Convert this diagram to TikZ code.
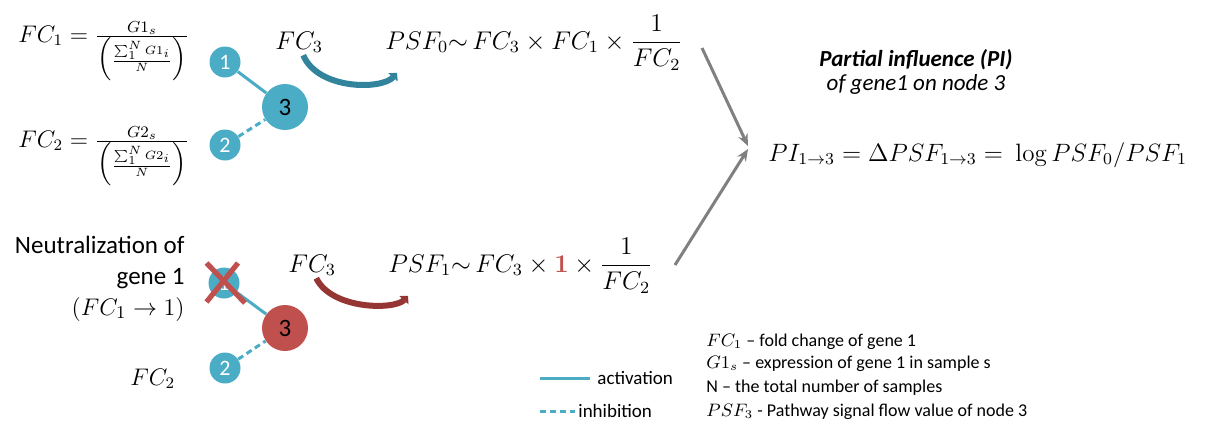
\documentclass[tikz,border=0pt]{standalone}
\usepackage{amsmath}
\usepackage{graphicx}
\usepackage[no-math]{fontspec}
\setmainfont{Carlito}
\usetikzlibrary{arrows.meta}
\definecolor{tealn}{HTML}{4BACC6}
\definecolor{redn}{HTML}{C0504D}
\definecolor{tealarr}{HTML}{31849B}
\definecolor{redarr}{HTML}{963634}
\definecolor{grayarr}{HTML}{808080}
\tikzset{
  gnode/.style={circle, fill=tealn, inner sep=0pt, minimum size=15.5pt, text=white, font=\fontsize{11}{12}\selectfont},
  bignode/.style={circle, inner sep=0pt, minimum size=23pt, text=black, font=\fontsize{12.5}{14}\selectfont},
  act/.style={draw=tealn, line width=1.5pt},
  inh/.style={draw=tealn, line width=1.5pt, dash pattern=on 3pt off 2pt},
  bigmath/.style={anchor=base west, inner sep=0pt, font=\fontsize{12}{14}\selectfont},
  midmath/.style={anchor=base west, inner sep=0pt, font=\fontsize{12}{14}\selectfont},
  curvarr/.style={line width=3pt, -{Triangle[length=3pt,width=6pt]}},
  grayarrow/.style={draw=grayarr, line width=1.5pt, -{Stealth[length=6pt,width=5pt]}},
  lbl/.style={inner sep=0pt, font=\fontsize{9}{11}\selectfont},
}
\begin{document}
\begin{tikzpicture}[x=0.5pt,y=-0.5pt]
\useasboundingbox (0,0) rectangle (1209,424);

% ---------- top: formulas FC1, FC2
\node[bigmath] (fc1) at (18,42) {$FC_1 = \frac{G1_s}{\Bigl(\frac{\sum_1^N G1_i}{N}\Bigr)}$};
\node[bigmath] (fc2) at (18,147) {$FC_2 = \frac{G2_s}{\Bigl(\frac{\sum_1^N G2_i}{N}\Bigr)}$};

% ---------- top network
\node[gnode] (t1) at (225,62) {1};
\node[gnode] (t2) at (225,145) {2};
\node[bignode, fill=tealn] (t3) at (285,107) {3};
\draw[act] (t1) -- (t3);
\draw[inh] (t2) -- (t3);

% ---------- top PSF0 formula
\node[midmath] (fc3t) at (275,49) {\scalebox{1.065}{$FC_3$}};
\node[midmath] (psf0) at (385,49) {\scalebox{1.065}{$PSF_0{\sim}\, FC_3 \times FC_1 \times \dfrac{1}{FC_2}$}};
\draw[curvarr, tealarr] ([xshift=2pt,yshift=-1pt]fc3t.south) .. controls (318,90) and (382,90) .. ([xshift=6pt,yshift=-1pt]psf0.south west);

% ---------- bottom: neutralization
\node[anchor=base east, align=right, inner sep=0pt, font=\fontsize{12.5}{15.5}\selectfont] (neut) at (185,315)
  {Neutralization of\\gene 1\\$(FC_1 \rightarrow 1)$};
\node[bigmath] (fc2b) at (130,385) {$FC_2$};

\node[gnode] (b1) at (224,283) {1};
\node[gnode] (b2) at (225,368) {2};
\node[bignode, fill=redn] (b3) at (285,328) {3};
\draw[act] (b1) -- (b3);
\draw[inh] (b2) -- (b3);
\draw[draw=redn, line width=2.6pt] ([shift={(-17.5,-20)}]b1.center) coordinate (x1a) -- ([shift={(21,20)}]b1.center) coordinate (x1b);
\draw[draw=redn, line width=2.6pt] ([shift={(14,-20)}]b1.center) coordinate (x2a) -- ([shift={(-17.5,19)}]b1.center) coordinate (x2b);

\node[midmath] (fc3b) at (288,272) {\scalebox{1.065}{$FC_3$}};
\node[midmath] (psf1) at (388,272) {\scalebox{1.065}{$PSF_1{\sim}\, FC_3 \times {\color{redn}\mathbf{1}} \times \dfrac{1}{FC_2}$}};
\draw[curvarr, redarr] ([xshift=2pt,yshift=-1pt]fc3b.south) .. controls (332,310) and (395,310) .. ([xshift=10pt,yshift=-1pt]psf1.south west);

% ---------- right: PI
\node[inner sep=0pt, font=\fontsize{11.5}{13}\selectfont\bfseries\itshape] (pititle) at (916,60) {Partial influence (PI)};
\node[inner sep=0pt, font=\fontsize{11.5}{13}\selectfont\itshape] (pisub) at (916,84) {of gene1 on node 3};
\node[anchor=base west, inner sep=0pt, font=\fontsize{12}{14}\selectfont] (pi) at (768,161)
  {\scalebox{1.045}{$PI_{1\rightarrow 3} = \Delta PSF_{1\rightarrow 3} = \ \log PSF_0/PSF_1$}};
\coordinate (gs1) at (702,48);
\coordinate (gs2) at (675,265);
\coordinate (ge1) at (748,146);
\coordinate (ge2) at (748,149);
\draw[grayarrow] (gs1) -- (ge1);
\draw[grayarrow] (gs2) -- (ge2);

% ---------- legend
\coordinate (la1) at (540,378);
\coordinate (la2) at (590,378);
\coordinate (li1) at (540,411);
\coordinate (li2) at (575,411);
\draw[act] (la1) -- (la2);
\draw[inh] (li1) -- (li2);
\node[lbl, anchor=west, font=\fontsize{9.5}{11}\selectfont] (lact) at (597,378) {activation};
\node[lbl, anchor=west, font=\fontsize{9.5}{11}\selectfont] (linh) at (578,411) {inhibition};

% ---------- definitions
\node[lbl, anchor=base west] (d1) at (706,346) {$FC_1$ -- fold change of gene 1};
\node[lbl, anchor=base west] (d2) at (706,368) {$G1_s$ -- expression of gene 1 in sample s};
\node[lbl, anchor=base west] (d3) at (706,392) {N -- the total number  of samples};
\node[lbl, anchor=base west] (d4) at (706,416) {$PSF_3$ - Pathway signal flow value of node 3};
\end{tikzpicture}
\end{document}
